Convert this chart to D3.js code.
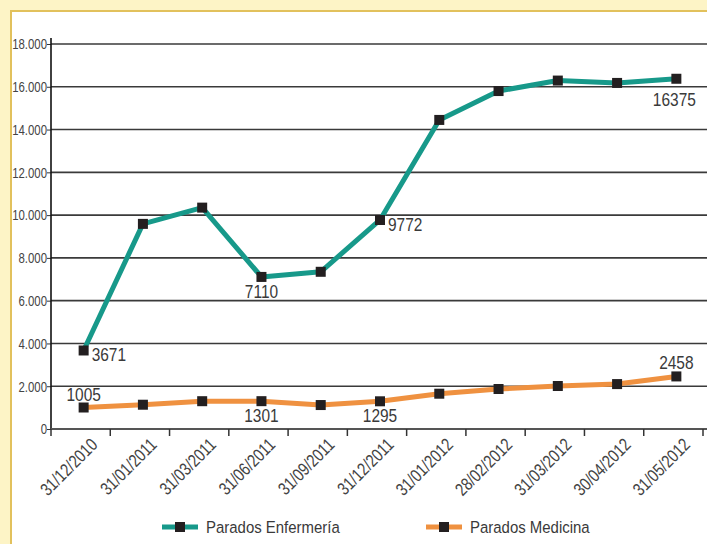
<!DOCTYPE html>
<html>
<head>
<meta charset="utf-8">
<script src="https://cdn.jsdelivr.net/npm/d3@7"></script>
<style>
  body { margin: 0; background: #fdf4c6; }
  svg { display: block; }
  text { font-family: "Liberation Sans", Arial, sans-serif; }
</style>
</head>
<body>
<svg id="mainsvg" width="707" height="544"></svg>
<script>
const fechas = ['31/12/2010', '31/01/2011', '31/03/2011', '31/06/2011', '31/09/2011', '31/12/2011',
    '31/01/2012', '28/02/2012', '31/03/2012', '30/04/2012', '31/05/2012'];
const enfermeria = [3671, 9590, 10350, 7110, 7350, 9772, 14450, 15800, 16290, 16180, 16375];
const medicina = [1005, 1135, 1300, 1301, 1120, 1295, 1650, 1870, 2010, 2100, 2458];
const yTicks = [0, 2000, 4000, 6000, 8000, 10000, 12000, 14000, 16000, 18000];
// which points carry a value label and where
const etiquetasEnf = [[0, 'r'], [3, 'b'], [5, 'r'], [10, 'bb']];
const etiquetasMed = [[0, 't'], [3, 'b'], [5, 'b'], [10, 't']];

const svg = d3.select('#mainsvg');
const margin = { top: 44, left: 51, right: 4, bottom: 115 };
const width = +svg.attr('width');
const height = +svg.attr('height');

// white panel with gold border
svg.append('rect')
    .attr('x', 11).attr('y', 11)
    .attr('width', width + 20).attr('height', height + 20)
    .attr('fill', '#ffffff')
    .attr('stroke', '#e2c15c')
    .attr('stroke-width', 2);

const x = d3.scaleBand().domain(fechas).range([margin.left, 703]);
const y = d3.scaleLinear().domain([0, 18000]).range([429, margin.top]);
const fmt = v => d3.format(',')(v).replace(/,/g, '.');

// grid
svg.append('g').selectAll('line').data(yTicks.filter(d => d > 0)).enter()
    .append('line')
    .attr('x1', margin.left).attr('x2', width)
    .attr('y1', d => y(d)).attr('y2', d => y(d))
    .attr('stroke', '#3a3a3a')
    .attr('stroke-width', 1.6);

// y axis
const yAxis = svg.append('g')
    .attr('transform', `translate(${margin.left},0)`)
    .call(d3.axisLeft(y).tickValues(yTicks).tickFormat(fmt).tickSize(4).tickSizeOuter(0));
yAxis.select('.domain').remove();
yAxis.append('line')
    .attr('x1', 0).attr('x2', 0)
    .attr('y1', 38).attr('y2', y(0))
    .attr('stroke', '#111').attr('stroke-width', 1.6);
yAxis.selectAll('.tick line').attr('stroke', '#333');
yAxis.selectAll('.tick text')
    .attr('x', 0)
    .attr('transform', 'translate(-4,0) scale(0.76,1)')
    .attr('fill', '#444')
    .attr('font-size', 15);

// x axis
const xAxis = svg.append('g')
    .attr('transform', `translate(0,${y(0)})`);
xAxis.append('line')
    .attr('x1', margin.left).attr('x2', width)
    .attr('stroke', '#555').attr('stroke-width', 2);
xAxis.selectAll('line.tk').data(fechas.concat(['end'])).enter()
    .append('line')
    .attr('class', 'tk')
    .attr('x1', (d, i) => margin.left + i * x.step())
    .attr('x2', (d, i) => margin.left + i * x.step())
    .attr('y1', 0).attr('y2', 7)
    .attr('stroke', '#333').attr('stroke-width', 1.5);
xAxis.selectAll('text').data(fechas).enter()
    .append('text')
    .attr('transform', d => `translate(${x(d) + x.bandwidth() / 2 + 9},8) rotate(-45) scale(0.8,1)`)
    .attr('text-anchor', 'end')
    .attr('dy', '0.7em')
    .attr('fill', '#444')
    .attr('font-size', 18)
    .text(d => d);

const cx = d => x(d) + x.bandwidth() / 2 + 3;
const line = d3.line().x((d, i) => cx(fechas[i])).y(d => y(d));

const dxLab = { r: 8, b: 0, bb: -2, t: 0 };
const dyLab = { r: 11, b: 21, bb: 27, t: -7 };

function serie(vals, color, etiquetas) {
    svg.append('path')
        .datum(vals)
        .attr('d', line)
        .attr('fill', 'none')
        .attr('stroke', color)
        .attr('stroke-width', 5)
        .attr('stroke-linejoin', 'round');
    svg.append('g').selectAll('rect').data(vals).enter()
        .append('rect')
        .attr('x', (d, i) => cx(fechas[i]) - 5)
        .attr('y', d => y(d) - 5)
        .attr('width', 10).attr('height', 10)
        .attr('fill', '#231f20');
    svg.append('g').selectAll('text').data(etiquetas).enter()
        .append('text')
        .attr('transform', d => `translate(${cx(fechas[d[0]]) + dxLab[d[1]]},${y(vals[d[0]]) + dyLab[d[1]]}) scale(0.86,1)`)
        .attr('text-anchor', d => d[1] === 'r' ? 'start' : 'middle')
        .attr('fill', '#3a3a3a')
        .attr('font-size', 18)
        .text(d => vals[d[0]]);
}
serie(enfermeria, '#17998a', etiquetasEnf);
serie(medicina, '#ef9140', etiquetasMed);

// legend
const leyenda = [['Parados Enfermería', '#17998a', 162], ['Parados Medicina', '#ef9140', 426]];
const lg = svg.append('g').selectAll('g').data(leyenda).enter()
    .append('g')
    .attr('transform', d => `translate(${d[2]},527)`);
lg.append('line')
    .attr('x1', 0).attr('x2', 36)
    .attr('stroke', d => d[1]).attr('stroke-width', 5);
lg.append('rect')
    .attr('x', 13).attr('y', -5).attr('width', 10).attr('height', 10)
    .attr('fill', '#231f20');
lg.append('text')
    .attr('transform', 'translate(44,0) scale(0.88,1)')
    .attr('dy', '0.36em')
    .attr('fill', '#3a3a3a')
    .attr('font-size', 17)
    .text(d => d[0]);
</script>
</body>
</html>
